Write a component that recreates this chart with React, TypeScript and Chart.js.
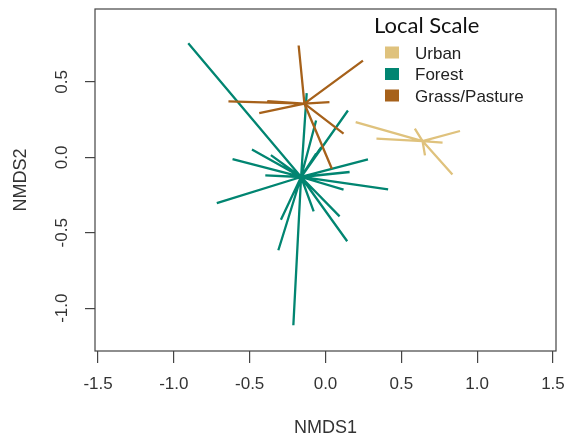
import React, { useEffect, useRef } from "react";
import { Chart, registerables } from "chart.js";

Chart.register(...registerables);

const GROUPS = ["Urban", "Forest", "Grass/Pasture"];
const COLORS = ["#DFC27D", "#018571", "#A6611A"];

// centroids (NMDS1, NMDS2)
const URBAN_CENTER = [0.64, 0.108];
const FOREST_CENTER = [-0.161, -0.13];
const GRASS_CENTER = [-0.139, 0.356];

// site scores per group
const URBAN_X = [0.199, 0.336, 0.887, 0.772, 0.837, 0.589, 0.656];
const URBAN_Y = [0.234, 0.124, 0.175, 0.098, -0.113, 0.19, 0.013];

const FOREST_X = [
  -0.905, -0.124, -0.062, 0.148, -0.028, -0.04, -0.062, -0.613, -0.485, -0.36,
  -0.397, -0.717, 0.28, 0.159, 0.413, 0.119, 0.093, 0.143, -0.078, -0.294,
  -0.311, -0.192, -0.212,
];
const FOREST_Y = [
  0.757, 0.426, 0.245, 0.311, 0.068, 0.051, 0.025, -0.012, 0.053, 0.015,
  -0.119, -0.303, -0.013, -0.097, -0.212, -0.214, -0.391, -0.556, -0.358, -0.413,
  -0.616, -0.215, -1.113,
];

const GRASS_X = [-0.177, 0.247, -0.64, 0.026, -0.437, 0.119, 0.042, -0.384];
const GRASS_Y = [0.742, 0.642, 0.371, 0.366, 0.293, 0.157, -0.075, 0.373];

const X_TICKS = [-1.5, -1.0, -0.5, 0, 0.5, 1.0, 1.5];
const Y_TICKS = [-1.0, -0.5, 0, 0.5];

function spider(center: number[], xs: number[], ys: number[]) {
  const pts: { x: number; y: number }[] = [];
  xs.forEach((x, i) => {
    pts.push({ x: center[0], y: center[1] });
    pts.push({ x, y: ys[i] });
    pts.push({ x: NaN, y: NaN });
  });
  return pts;
}

const overlayPlugin = {
  id: "overlay",
  afterDraw(chart: any) {
    const { ctx, chartArea } = chart;
    const { left, right, top, bottom } = chartArea;
    ctx.save();
    // box
    ctx.strokeStyle = "#444";
    ctx.lineWidth = 1.2;
    ctx.strokeRect(left, top, right - left, bottom - top);

    // axis titles
    ctx.fillStyle = "#333";
    ctx.font = "18px 'Liberation Sans', Arial, sans-serif";
    ctx.textAlign = "center";
    ctx.textBaseline = "middle";
    ctx.fillText("NMDS1", (left + right) / 2, 428);
    ctx.save();
    ctx.translate(21, (top + bottom) / 2);
    ctx.rotate(-Math.PI / 2);
    ctx.fillText("NMDS2", 0, 0);
    ctx.restore();

    // legend
    ctx.fillStyle = "#111";
    ctx.textAlign = "left";
    ctx.textBaseline = "alphabetic";
    ctx.font = "22px Lato, 'Open Sans', sans-serif";
    ctx.fillText("Local Scale", 374, 33);
    ctx.font = "17px 'Liberation Sans', Arial, sans-serif";
    const baselines = [58.5, 80, 101.5];
    GROUPS.forEach((g, i) => {
      ctx.fillStyle = COLORS[i];
      ctx.fillRect(385, baselines[i] - 12, 14, 12);
      ctx.fillStyle = "#222";
      ctx.fillText(g, 415, baselines[i]);
    });
    ctx.restore();
  },
};

export default function App() {
  const ref = useRef<HTMLCanvasElement>(null);
  useEffect(() => {
    if (!ref.current) return;
    const tickFont = { family: "'Liberation Sans', Arial, sans-serif", size: 17 };
    const chart = new Chart(ref.current, {
      type: "scatter",
      data: {
        datasets: [
          {
            label: GROUPS[0],
            data: spider(URBAN_CENTER, URBAN_X, URBAN_Y),
            showLine: true,
            borderColor: COLORS[0],
            borderWidth: 2.3,
            pointRadius: 0,
            spanGaps: false,
            order: 2,
          },
          {
            label: GROUPS[1],
            data: spider(FOREST_CENTER, FOREST_X, FOREST_Y),
            showLine: true,
            borderColor: COLORS[1],
            borderWidth: 2.3,
            pointRadius: 0,
            spanGaps: false,
            order: 1,
          },
          {
            label: GROUPS[2],
            data: spider(GRASS_CENTER, GRASS_X, GRASS_Y),
            showLine: true,
            borderColor: COLORS[2],
            borderWidth: 2.3,
            pointRadius: 0,
            spanGaps: false,
            order: 0,
          },
        ],
      },
      options: {
        animation: false,
        responsive: true,
        maintainAspectRatio: false,
        layout: { padding: { left: 0, right: 11, top: 9, bottom: 0 } },
        plugins: { legend: { display: false }, tooltip: { enabled: false } },
        scales: {
          x: {
            type: "linear",
            min: -1.52,
            max: 1.52,
            afterBuildTicks: (s: any) => {
              s.ticks = X_TICKS.map((v) => ({ value: v }));
            },
            afterFit: (s: any) => {
              s.height = 87;
              s.paddingLeft = 0;
              s.paddingRight = 0;
              s.paddingTop = 0;
              s.paddingBottom = 0;
            },
            grid: { drawOnChartArea: false, drawTicks: true, tickLength: 12, color: "#444", lineWidth: 1.2 },
            border: { display: false },
            ticks: {
              padding: 11,
              font: tickFont,
              color: "#333",
              minRotation: 0,
              maxRotation: 0,
              autoSkip: false,
              callback: (v: any) => Number(v).toFixed(1),
            },
          },
          y: {
            type: "linear",
            min: -1.284,
            max: 0.984,
            afterBuildTicks: (s: any) => {
              s.ticks = Y_TICKS.map((v) => ({ value: v }));
            },
            afterFit: (s: any) => {
              s.width = 95;
              s.paddingLeft = 0;
              s.paddingRight = 0;
              s.paddingTop = 0;
              s.paddingBottom = 0;
            },
            grid: { drawOnChartArea: false, drawTicks: true, tickLength: 10, color: "#444", lineWidth: 1.2 },
            border: { display: false },
            ticks: {
              padding: 8,
              font: tickFont,
              color: "#333",
              minRotation: 90,
              maxRotation: 90,
              crossAlign: "center",
              autoSkip: false,
              callback: (v: any) => Number(v).toFixed(1),
            },
          },
        },
      },
      plugins: [overlayPlugin],
    });
    return () => chart.destroy();
  }, []);
  return (
    <div style={{ position: "absolute", left: 0, top: 0, width: 567, height: 438, background: "#fff" }}>
      <canvas ref={ref} />
    </div>
  );
}
